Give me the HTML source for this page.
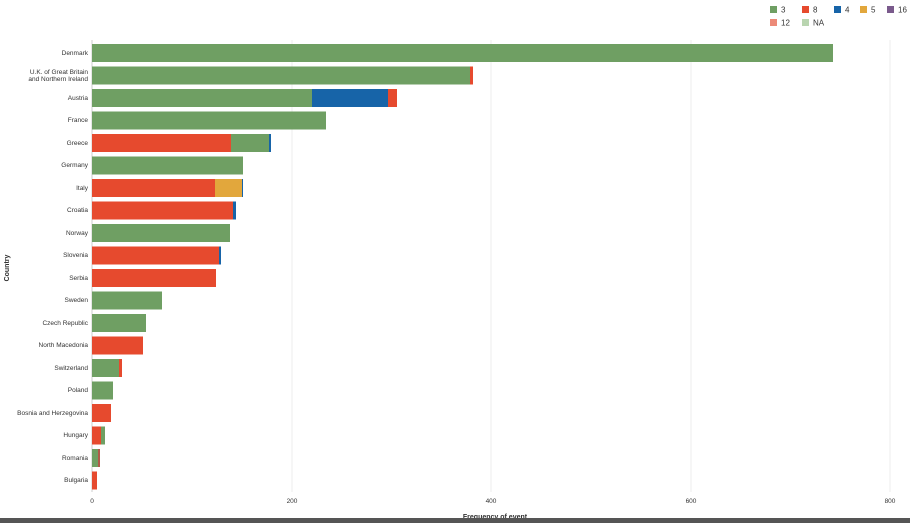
<!DOCTYPE html><html><head><style>body{margin:0;background:#fff}svg{display:block}text{font-family:"Liberation Sans",sans-serif;fill:#333}</style></head><body>
<svg width="910" height="523" xmlns="http://www.w3.org/2000/svg">
<g stroke="#ececec" stroke-width="1"><line x1="292" y1="40" x2="292" y2="492"/><line x1="491" y1="40" x2="491" y2="492"/><line x1="691" y1="40" x2="691" y2="492"/><line x1="890" y1="40" x2="890" y2="492"/></g>
<line x1="92" y1="40" x2="92" y2="492" stroke="#ccc"/>
<g font-size="6.5" text-anchor="end">
<text x="88" y="55">Denmark</text>
<text x="88" y="74">U.K. of Great Britain</text><text x="88" y="81">and Northern Ireland</text>
<text x="88" y="100">Austria</text><text x="88" y="122">France</text><text x="88" y="145">Greece</text><text x="88" y="167">Germany</text><text x="88" y="190">Italy</text><text x="88" y="212">Croatia</text><text x="88" y="235">Norway</text><text x="88" y="257">Slovenia</text><text x="88" y="280">Serbia</text><text x="88" y="302">Sweden</text><text x="88" y="325">Czech Republic</text><text x="88" y="347">North Macedonia</text><text x="88" y="370">Switzerland</text><text x="88" y="392">Poland</text><text x="88" y="415">Bosnia and Herzegovina</text><text x="88" y="437">Hungary</text><text x="88" y="460">Romania</text><text x="88" y="482">Bulgaria</text>
</g>
<g>
<rect x="92" y="44" width="741" height="18" fill="#6f9f63"/>
<rect x="92" y="66.5" width="378" height="18" fill="#6f9f63"/><rect x="470" y="66.5" width="3" height="18" fill="#e64a2e"/>
<rect x="92" y="89" width="220" height="18" fill="#6f9f63"/><rect x="312" y="89" width="76" height="18" fill="#1764a8"/><rect x="388" y="89" width="9" height="18" fill="#e64a2e"/>
<rect x="92" y="111.5" width="234" height="18" fill="#6f9f63"/>
<rect x="92" y="134" width="139" height="18" fill="#e64a2e"/><rect x="231" y="134" width="38" height="18" fill="#6f9f63"/><rect x="269" y="134" width="2" height="18" fill="#1764a8"/>
<rect x="92" y="156.5" width="151" height="18" fill="#6f9f63"/>
<rect x="92" y="179" width="123" height="18" fill="#e64a2e"/><rect x="215" y="179" width="27" height="18" fill="#e2a73c"/><rect x="242" y="179" width="1" height="18" fill="#1764a8"/>
<rect x="92" y="201.5" width="141" height="18" fill="#e64a2e"/><rect x="233" y="201.5" width="3" height="18" fill="#1764a8"/>
<rect x="92" y="224" width="138" height="18" fill="#6f9f63"/>
<rect x="92" y="246.5" width="127" height="18" fill="#e64a2e"/><rect x="219" y="246.5" width="2" height="18" fill="#1764a8"/>
<rect x="92" y="269" width="124" height="18" fill="#e64a2e"/>
<rect x="92" y="291.5" width="70" height="18" fill="#6f9f63"/>
<rect x="92" y="314" width="54" height="18" fill="#6f9f63"/>
<rect x="92" y="336.5" width="51" height="18" fill="#e64a2e"/>
<rect x="92" y="359" width="27" height="18" fill="#6f9f63"/><rect x="119" y="359" width="3" height="18" fill="#e64a2e"/>
<rect x="92" y="381.5" width="21" height="18" fill="#6f9f63"/>
<rect x="92" y="404" width="19" height="18" fill="#e64a2e"/>
<rect x="92" y="426.5" width="9" height="18" fill="#e64a2e"/><rect x="101" y="426.5" width="4" height="18" fill="#6f9f63"/>
<rect x="92" y="449" width="6" height="18" fill="#6f9f63"/><rect x="98" y="449" width="2" height="18" fill="#b05a48"/>
<rect x="92" y="471.5" width="5" height="18" fill="#e64a2e"/>
</g>
<g font-size="6.5" text-anchor="middle"><text x="92" y="503">0</text><text x="292" y="503">200</text><text x="491" y="503">400</text><text x="691" y="503">600</text><text x="890" y="503">800</text></g>
<text x="495" y="519" font-size="7" font-weight="bold" text-anchor="middle">Frequency of event</text>
<text transform="translate(9,268) rotate(-90)" font-size="7" font-weight="bold" text-anchor="middle">Country</text>
<rect x="0" y="518" width="910" height="5" fill="#555"/>
<g font-size="8">
<rect x="770" y="6" width="7" height="7" fill="#6f9f63"/><text x="781" y="12.5">3</text>
<rect x="802" y="6" width="7" height="7" fill="#e64a2e"/><text x="813" y="12.5">8</text>
<rect x="834" y="6" width="7" height="7" fill="#1764a8"/><text x="845" y="12.5">4</text>
<rect x="860" y="6" width="7" height="7" fill="#e2a73c"/><text x="871" y="12.5">5</text>
<rect x="887" y="6" width="7" height="7" fill="#7a5a8c"/><text x="898" y="12.5">16</text>
<rect x="770" y="19" width="7" height="7" fill="#ec8a78"/><text x="781" y="25.5">12</text>
<rect x="802" y="19" width="7" height="7" fill="#b9d5b0"/><text x="813" y="25.5">NA</text>
</g>
</svg></body></html>
